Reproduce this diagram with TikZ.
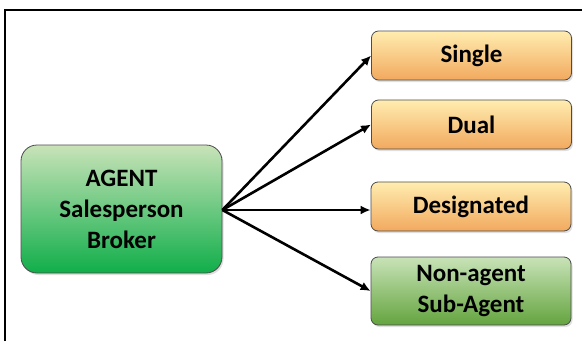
\documentclass[tikz,border=0pt]{standalone}
\usepackage{fontspec}
\setmainfont{Carlito}
\usetikzlibrary{arrows.meta,shadows}
\definecolor{orangetop}{HTML}{FFEDB0}
\definecolor{orangemid}{HTML}{FFD865}
\definecolor{orangebot}{HTML}{F2A95E}
\definecolor{greentop}{HTML}{C8E3B8}
\definecolor{greenmid}{HTML}{74B046}
\definecolor{greenbot}{HTML}{10AE4A}
\definecolor{leafbot}{HTML}{64A43E}

\begin{document}
\begin{tikzpicture}[x=1pt,y=1pt,
  box/.style={draw=black!70,line width=0.8pt,rounded corners=7pt,minimum width=200pt,
    minimum height=49pt,align=center,font=\fontsize{25}{31}\selectfont\bfseries,
    drop shadow={shadow xshift=1.5pt,shadow yshift=-2pt,opacity=0.25}},
  orangebox/.style={box,top color=orangetop,middle color=orangemid,bottom color=orangebot},
  greenbox/.style={box,top color=greentop,bottom color=leafbot},
  arr/.style={-{Latex[length=10pt,width=9pt]},line width=2.6pt}]
  \useasboundingbox (0,0) rectangle (582,-341);
  \fill[white] (0,0) rectangle (582,-341);
  \draw[line width=2pt] (5,-341) -- (5,-10) -- (582,-10);

  \node[box,minimum width=201pt,minimum height=128pt,rounded corners=16pt,
    top color=greentop,middle color=greenmid,bottom color=greenbot]
    (agent) at (121.5,-209) {AGENT\\Salesperson\\Broker};
  \node[orangebox] (single) at (471.5,-55.5) {Single};
  \node[orangebox] (dual) at (471.5,-124.5) {Dual};
  \node[orangebox] (desig) at (471,-206.5) {Designated};
  \node[greenbox,minimum height=68pt] (nonagent) at (471,-291) {Non-agent\\Sub-Agent};

  \coordinate (src) at ([yshift=-1pt]agent.east);
  \draw[arr] (src) -- (single.west);
  \draw[arr] (src) -- (dual.west);
  \draw[arr] (src) -- (desig.west |- src);
  \draw[arr] (src) -- (nonagent.west);
\end{tikzpicture}
\end{document}
